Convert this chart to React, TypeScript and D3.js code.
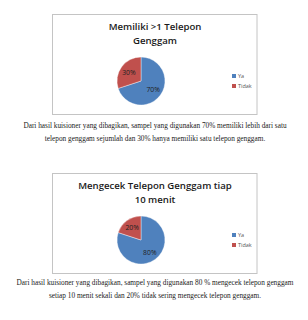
import React from "react";
import * as d3 from "d3";

const categories = ["Ya", "Tidak"];
const chart1Values = [70, 30];
const chart2Values = [80, 20];
const chart1Title = ["Memiliki >1 Telepon", "Genggam"];
const chart2Title = ["Mengecek Telepon Genggam tiap", "10 menit"];
const caption1 = [
  "Dari hasil kuisioner yang dibagikan, sampel yang digunakan 70% memiliki lebih dari satu",
  "telepon genggam sejumlah dan 30% hanya memiliki satu telepon genggam.",
];
const caption2 = [
  "Dari hasil kuisioner yang dibagikan, sampel yang digunakan 80 % mengecek telepon genggam",
  "setiap 10 menit sekali dan 20% tidak sering mengecek telepon genggam.",
];

const colors = ["#4F81BD", "#C0504D"];

function PieChart({ y, values, title }: { y: number; values: number[]; title: string[] }) {
  const boxX = 52.5;
  const boxW = 204.5;
  const boxH = 100;
  const cx = 141;
  const cy = 67;
  const R = 24;
  const pie = d3.pie<number>().sort(null).value((d) => d)(values);
  const arc = d3.arc<d3.PieArcDatum<number>>().innerRadius(0).outerRadius(R);
  const labelArc = d3.arc<d3.PieArcDatum<number>>().innerRadius(15).outerRadius(15);
  const color = d3.scaleOrdinal<string, string>().domain(categories).range(colors);
  const legendY = d3.scalePoint<string>().domain(categories).range([62, 72]);
  const total = d3.sum(values);
  return (
    <g transform={`translate(0,${y})`}>
      <rect x={boxX} y={0.5} width={boxW} height={boxH} fill="#fff" stroke="#c4c4c4" strokeWidth={1} />
      {title.map((t, i) => (
        <text
          key={i}
          x={155}
          y={16 + i * 13.5}
          textAnchor="middle"
          fontFamily="'Open Sans', 'Noto Sans', sans-serif"
          fontWeight={600}
          fontSize={9.6}
          fill="#1a1a1a"
        >
          {t}
        </text>
      ))}
      <g transform={`translate(${cx},${cy})`}>
        {pie.map((p, i) => (
          <path key={i} d={arc(p) || ""} fill={color(categories[i])} stroke="#fff" strokeWidth={0.4} />
        ))}
        {pie.map((p, i) => {
          const [lx, ly] = labelArc.centroid(p);
          return (
            <text
              key={i}
              x={lx}
              y={ly}
              dy="0.35em"
              textAnchor="middle"
              fontFamily="'Open Sans', sans-serif"
              fontSize={6.8}
              fill="#222"
            >
              {`${Math.round((p.value / total) * 100)}%`}
            </text>
          );
        })}
      </g>
      {categories.map((c) => (
        <g key={c} transform={`translate(232,${legendY(c)})`}>
          <rect x={0} y={-2} width={4} height={4} fill={color(c)} />
          <text x={6} y={0} dy="0.35em" fontFamily="'Open Sans', sans-serif" fontSize={5.5} fill="#555">
            {c}
          </text>
        </g>
      ))}
    </g>
  );
}

function Caption({ y, lines }: { y: number; lines: string[] }) {
  return (
    <g>
      {lines.map((l, i) => (
        <text
          key={i}
          x={155}
          y={y + i * 13}
          textAnchor="middle"
          fontFamily="'Liberation Serif', 'DejaVu Serif', serif"
          fontSize={7.3}
          fill="#222"
        >
          {l}
        </text>
      ))}
    </g>
  );
}

export default function App() {
  return (
    <div style={{ position: "absolute", left: 0, top: 0 }}>
      <svg width={308} height={320} style={{ display: "block", background: "#fff" }}>
        <PieChart y={14} values={chart1Values} title={chart1Title} />
        <Caption y={127.5} lines={caption1} />
        <PieChart y={173} values={chart2Values} title={chart2Title} />
        <Caption y={284.5} lines={caption2} />
      </svg>
    </div>
  );
}
